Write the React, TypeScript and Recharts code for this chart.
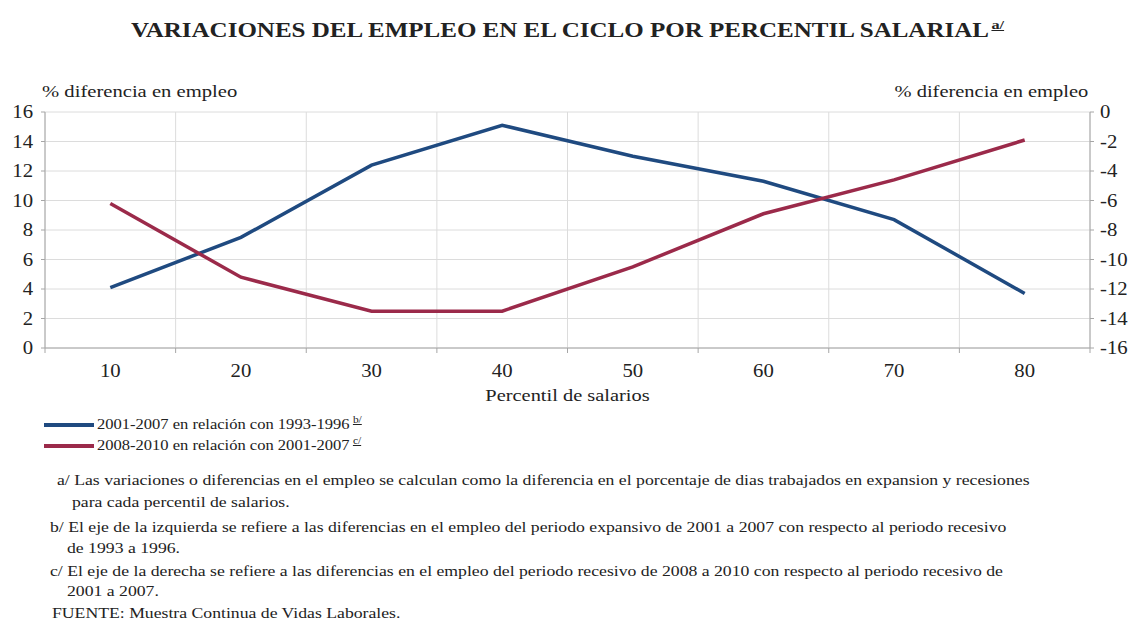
import React from "react";
import { LineChart, Line, XAxis, YAxis, CartesianGrid } from "recharts";

// Percentiles de salarios (eje X)
const percentiles = [10, 20, 30, 40, 50, 60, 70, 80];
// 2001-2007 en relación con 1993-1996 (eje izquierdo)
const expansion = [4.1, 7.5, 12.4, 15.1, 13.0, 11.3, 8.7, 3.7];
// 2008-2010 en relación con 2001-2007 (eje derecho)
const recesion = [-6.2, -11.2, -13.5, -13.5, -10.5, -6.9, -4.6, -1.9];

const leftTicks = [0, 2, 4, 6, 8, 10, 12, 14, 16];
const rightTicks = [-16, -14, -12, -10, -8, -6, -4, -2, 0];
// límites entre categorías, donde van las líneas verticales de la rejilla
const gridBounds = [5, 15, 25, 35, 45, 55, 65, 75, 85];

const BLUE = "#1f4a80";
const RED = "#9b2a4a";
const AXIS = "#a6a6a6";
const TEXT = "#222";
const FONT = "'Liberation Serif', 'Times New Roman', serif";
const STRETCH = 1.2; // el original está algo ensanchado en horizontal

const data = percentiles.map((p, i) => ({
  p,
  expansion: expansion[i],
  recesion: recesion[i],
}));

const notes: { text: string; x: number; y: number }[] = [
  { text: "a/ Las variaciones o diferencias en el empleo se calculan como la diferencia en el porcentaje de dias trabajados en expansion y recesiones", x: 57, y: 472 },
  { text: "para cada percentil de salarios.", x: 72, y: 494 },
  { text: "b/ El eje de la izquierda se refiere a las diferencias en el empleo del periodo expansivo de 2001 a 2007 con respecto al periodo recesivo", x: 50, y: 519 },
  { text: "de 1993 a 1996.", x: 67, y: 540 },
  { text: "c/ El eje de la derecha se refiere a las diferencias en el empleo del periodo recesivo de 2008 a 2010 con respecto al periodo recesivo de", x: 50, y: 563 },
  { text: "2001 a 2007.", x: 67, y: 583 },
  { text: "FUENTE: Muestra Continua de Vidas Laborales.", x: 52, y: 605 },
];

// tick de texto ensanchado; dy según el eje
function makeTick(dy: string) {
  // eslint-disable-next-line @typescript-eslint/no-explicit-any
  return (props: any) => {
    const { x, y, payload, textAnchor } = props;
    return (
      <g transform={`translate(${x},${y})`}>
        <text transform={`scale(${STRETCH * 0.96},1)`} textAnchor={textAnchor} dy={dy} fill={TEXT} fontSize={18} fontFamily={FONT}>
          {payload.value}
        </text>
      </g>
    );
  };
}
const yTick = makeTick("0.35em");
const xTick = makeTick("0.85em");

function Wide({ children, style, origin = "left top", scale = STRETCH }: { children: React.ReactNode; style: React.CSSProperties; origin?: string; scale?: number }) {
  return (
    <div style={{ position: "absolute", whiteSpace: "nowrap", transform: `scaleX(${scale})`, transformOrigin: origin, ...style }}>
      {children}
    </div>
  );
}

function LegendRow({ color, label, note, top }: { color: string; label: string; note: string; top: number }) {
  return (
    <>
      <div style={{ position: "absolute", left: 44, top: top + 9, width: 50, height: 4, background: color }} />
      <Wide style={{ left: 97, top, fontSize: 14.5 }} scale={1.14}>
        {label}
        <sup style={{ fontSize: 10, textDecoration: "underline", marginLeft: 3 }}>{note}</sup>
      </Wide>
    </>
  );
}

export default function App() {
  return (
    <div style={{ position: "absolute", left: 0, top: 0, width: 1135, height: 624, background: "#fff", color: TEXT, fontFamily: FONT }}>
      <Wide style={{ top: 17, left: 0, width: 1135, textAlign: "center", fontWeight: "bold", fontSize: 20 }} origin="center top" scale={1.25}>
        VARIACIONES DEL EMPLEO EN EL CICLO POR PERCENTIL SALARIAL
        <sup style={{ fontSize: 13, textDecoration: "underline", marginLeft: 2 }}>a/</sup>
      </Wide>
      <Wide style={{ top: 82, left: 42, fontSize: 16.5 }} scale={1.25}>% diferencia en empleo</Wide>
      <Wide style={{ top: 82, right: 47, fontSize: 16.5 }} origin="right top" scale={1.24}>% diferencia en empleo</Wide>

      <div style={{ position: "absolute", top: 0, left: 0 }}>
        <LineChart width={1135} height={410} data={data} margin={{ top: 112, right: 0, left: 0, bottom: 26 }}>
          <CartesianGrid xAxisId="grid" yAxisId="left" stroke="#dcdcdc" strokeWidth={1} />
          <XAxis
            xAxisId="grid"
            dataKey="p"
            type="number"
            domain={[5, 85]}
            ticks={gridBounds}
            height={6}
            tickFormatter={() => ""}
            stroke={AXIS}
            tickSize={5}
            tickLine={{ stroke: AXIS }}
          />
          <XAxis
            xAxisId="lab"
            dataKey="p"
            type="number"
            domain={[5, 85]}
            ticks={percentiles}
            height={30}
            axisLine={false}
            tickLine={false}
            tick={xTick}
          />
          <YAxis
            yAxisId="left"
            domain={[0, 16]}
            ticks={leftTicks}
            width={45}
            stroke={AXIS}
            tickSize={4}
            tickMargin={8}
            tick={yTick}
          />
          <YAxis
            yAxisId="right"
            orientation="right"
            domain={[-16, 0]}
            ticks={rightTicks}
            width={45}
            stroke={AXIS}
            tickSize={4}
            tickMargin={6}
            tick={yTick}
          />
          <Line xAxisId="lab" yAxisId="left" dataKey="expansion" stroke={BLUE} strokeWidth={3.5} dot={false} type="linear" isAnimationActive={false} />
          <Line xAxisId="lab" yAxisId="right" dataKey="recesion" stroke={RED} strokeWidth={3.5} dot={false} type="linear" isAnimationActive={false} />
        </LineChart>
      </div>

      <Wide style={{ top: 386, left: 0, width: 1135, textAlign: "center", fontSize: 17 }} origin="center top">Percentil de salarios</Wide>

      <LegendRow color={BLUE} label="2001-2007 en relación con 1993-1996" note="b/" top={414} />
      <LegendRow color={RED} label="2008-2010 en relación con 2001-2007" note="c/" top={435} />

      {notes.map((n, i) => (
        <Wide key={i} style={{ left: n.x, top: n.y, fontSize: 14.5 }} scale={1.22}>
          {n.text}
        </Wide>
      ))}
    </div>
  );
}
